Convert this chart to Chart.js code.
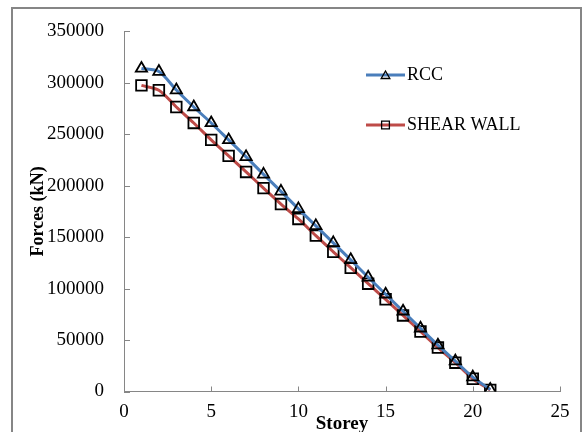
<!DOCTYPE html>
<html>
<head>
<meta charset="utf-8">
<script src="https://cdn.jsdelivr.net/npm/chart.js@4.4.1/dist/chart.umd.min.js"></script>
<style>
  html, body { margin: 0; padding: 0; background: #fff; overflow: hidden; }
  body { width: 585px; height: 432px; position: relative; }
  #frame { position: absolute; left: 11px; top: 7px; width: 571px; height: 500px; border: 2px solid #868686; box-sizing: border-box; }
  #title { position: absolute; left: 40px; top: -19px; font: 18px "Liberation Serif", serif; line-height: 18px; white-space: nowrap; color: #000; }
  #wrap { position: absolute; left: 0; top: 0; width: 585px; height: 432px; }
</style>
</head>
<body>
<div id="title">Fig. 4.8 Maximum Storey Shear in Y Direction</div>
<div id="frame"></div>
<div id="wrap"><canvas id="c" width="585" height="432"></canvas></div>
<script>
const storeys = [1,2,3,4,5,6,7,8,9,10,11,12,13,14,15,16,17,18,19,20,21];
const rcc = [314000,311000,293000,276500,261000,244500,228000,211000,194500,177500,161000,144500,128000,111000,94500,78000,61500,45000,29500,14000,2000];
const shearWall = [297500,292800,276500,261000,244600,229000,213400,197700,182200,167700,151500,135800,120300,104800,89600,73900,58300,42700,28000,12400,1500];
const seriesNames = ['RCC', 'SHEAR WALL'];
const xTitle = 'Storey';
const yTitle = 'Forces (kN)';

const AXIS = '#868686';
const FONT = '"Liberation Serif", "Times New Roman", serif';

const innerTicks = {
  id: 'innerTicks',
  afterDatasetsDraw(chart) {
    const ctx = chart.ctx, x = chart.scales.x, y = chart.scales.y;
    ctx.save();
    ctx.strokeStyle = AXIS; ctx.lineWidth = 1;
    ctx.beginPath();
    x.ticks.forEach(t => { const px = Math.round(x.getPixelForValue(t.value)) + 0.5; ctx.moveTo(px, y.bottom); ctx.lineTo(px, y.bottom - 5); });
    y.ticks.forEach(t => { const py = Math.round(y.getPixelForValue(t.value)) + 0.5; ctx.moveTo(x.left, py); ctx.lineTo(x.left + 6, py); });
    ctx.stroke();
    ctx.restore();
  }
};

const customLegend = {
  id: 'customLegend',
  afterDraw(chart) {
    const ctx = chart.ctx;
    const items = [
      { y: 75, ds: chart.data.datasets[0] },
      { y: 125, ds: chart.data.datasets[1] }
    ];
    ctx.save();
    items.forEach(it => {
      ctx.strokeStyle = it.ds.borderColor; ctx.lineWidth = 3;
      ctx.beginPath(); ctx.moveTo(366, it.y); ctx.lineTo(405, it.y); ctx.stroke();
      ctx.strokeStyle = '#000'; ctx.lineWidth = 1.3; ctx.fillStyle = 'rgba(0,0,0,0)';
      const isTri = it.ds.pointStyle === 'triangle';
      Chart.helpers.drawPoint(ctx, { pointStyle: it.ds.pointStyle, rotation: 0, radius: isTri ? 5 : 5.5, borderWidth: 1.3 }, 385.5, it.y + (isTri ? 1 : 0));
      ctx.fillStyle = '#000';
      ctx.font = '18px ' + FONT;
      ctx.textBaseline = 'middle';
      ctx.fillText(it.ds.label, 407, it.y);
    });
    ctx.restore();
  }
};

new Chart(document.getElementById('c'), {
  type: 'line',
  data: {
    datasets: [
      { label: seriesNames[0], data: storeys.map((s, i) => ({ x: s, y: rcc[i] })),
        borderColor: '#4A7EBB', borderWidth: 3, tension: 0.3,
        pointStyle: 'triangle', pointRadius: 6.5, pointBorderColor: '#000', pointBorderWidth: 1.8,
        pointBackgroundColor: 'rgba(0,0,0,0)' },
      { label: seriesNames[1], data: storeys.map((s, i) => ({ x: s, y: shearWall[i] })),
        borderColor: '#BE4B48', borderWidth: 3, tension: 0.3,
        pointStyle: 'rect', pointRadius: 7.5, pointBorderColor: '#000', pointBorderWidth: 1.8,
        pointBackgroundColor: 'rgba(0,0,0,0)' }
    ]
  },
  options: {
    responsive: false,
    animation: false,
    events: [],
    layout: { padding: { left: 0, right: 25, top: 20, bottom: 0 } },
    plugins: { legend: { display: false }, tooltip: { enabled: false } },
    scales: {
      x: {
        type: 'linear', min: 0, max: 25,
        ticks: { stepSize: 5, color: '#000', padding: 9, font: { family: FONT, size: 19 }, maxRotation: 0, callback: v => String(v) },
        grid: { display: false, drawTicks: false },
        border: { display: true, color: AXIS, width: 1 },
        title: { display: true, text: xTitle, color: '#000', font: { family: FONT, size: 19, weight: 'bold' }, padding: { top: 0, bottom: -3 } },
        afterFit(s) { s.height = 40.5; }
      },
      y: {
        type: 'linear', min: 0, max: 350000,
        ticks: { stepSize: 50000, color: '#000', padding: 20, font: { family: FONT, size: 19 }, callback: v => String(v) },
        grid: { display: false, drawTicks: false },
        border: { display: true, color: AXIS, width: 1 },
        title: { display: true, text: yTitle, color: '#000', font: { family: FONT, size: 18, weight: 'bold' }, padding: { top: 28, bottom: 0 } },
        afterFit(s) { s.width = 124; }
      }
    }
  },
  plugins: [innerTicks, customLegend]
});
</script>
</body>
</html>
